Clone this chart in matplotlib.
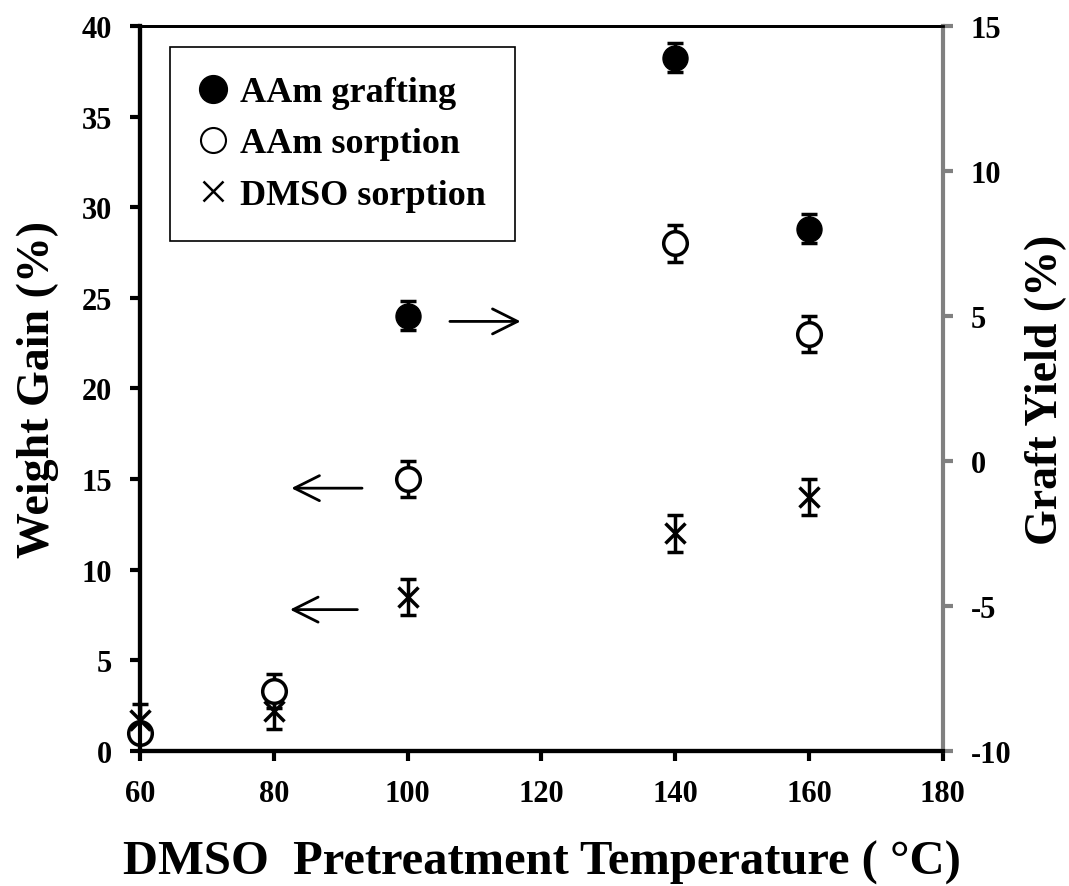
import matplotlib
matplotlib.use("Agg")
import matplotlib.pyplot as plt
from matplotlib.lines import Line2D

# DMSO pretreatment temperature (deg C)
temp_graft = [100, 140, 160]
graft_yield = [5.0, 13.9, 8.0]          # right axis, %
graft_err = [0.5, 0.5, 0.5]

temp_sorp = [60, 80, 100, 140, 160]
aam_sorption = [1.0, 3.3, 15.0, 28.0, 23.0]   # left axis, %
aam_err = [0.4, 0.95, 1.0, 1.0, 1.0]
dmso_sorption = [1.7, 2.2, 8.5, 12.0, 14.0]
dmso_err = [0.9, 1.0, 1.0, 1.0, 1.0]

plt.rcParams["font.family"] = ["Liberation Serif", "DejaVu Serif"]
plt.rcParams["font.weight"] = "bold"
plt.rcParams["axes.unicode_minus"] = False

fig = plt.figure(figsize=(10.69, 8.87), dpi=100)
ax = fig.add_axes([0.131, 0.1522, 0.751, 0.8174])
ax2 = ax.twinx()

eb = ax.errorbar(temp_sorp, aam_sorption, yerr=aam_err, fmt="o", ms=17, mfc="white",
                 mec="black", mew=2.5, ecolor="black", elinewidth=2.5, capsize=6,
                 capthick=2.5, zorder=3)
eb2 = ax.errorbar(temp_sorp, dmso_sorption, yerr=dmso_err, fmt="x", ms=15, mec="black",
                  mew=2.5, ecolor="black", elinewidth=2.5, capsize=6, capthick=2.5,
                  zorder=3)
ax2.errorbar(temp_graft, graft_yield, yerr=graft_err, fmt="o", ms=18, mfc="black",
             mec="black", ecolor="black", elinewidth=2.5, capsize=6, capthick=2.5)
for container in (eb, eb2):
    for artist in container.get_children():
        artist.set_clip_on(False)

ax.set_xlim(60, 180)
ax.set_ylim(0, 40)
ax2.set_ylim(-10, 15)
ax.set_xticks(range(60, 181, 20))
ax.set_yticks(range(0, 41, 5))
ax2.set_yticks(range(-10, 16, 5))

for a in (ax, ax2):
    for s in a.spines.values():
        s.set_linewidth(3)
ax.spines["top"].set_linewidth(2)
ax2.spines["top"].set_linewidth(2)
ax2.spines["right"].set_color("#808080")
ax.spines["right"].set_visible(False)

ax.tick_params(axis="both", direction="out", length=7, width=3, labelsize=22, pad=13)
ax2.tick_params(axis="y", direction="out", length=7, width=3, color="#808080",
                labelsize=22, pad=13)
for lbl in ax.get_xticklabels() + ax.get_yticklabels() + ax2.get_yticklabels():
    lbl.set_fontweight("bold")

ax.set_ylabel("Weight Gain (%)", fontsize=33, fontweight="bold", labelpad=16)
ax2.set_ylabel("Graft Yield (%)", fontsize=33, fontweight="bold", labelpad=10)
ax.set_xlabel("DMSO  Pretreatment Temperature ( \u00b0C)", fontsize=35,
              fontweight="bold", labelpad=23)

arrow = dict(arrowstyle="->", color="black", lw=2, mutation_scale=45)
ax.annotate("", xy=(117.3, 23.7), xytext=(105.9, 23.7), arrowprops=arrow)
ax.annotate("", xy=(82.2, 14.5), xytext=(93.6, 14.5), arrowprops=arrow)
ax.annotate("", xy=(82.0, 7.8), xytext=(92.9, 7.8), arrowprops=arrow)

handles = [
    Line2D([], [], ls="none", marker="o", ms=20, mfc="black", mec="black"),
    Line2D([], [], ls="none", marker="o", ms=18, mfc="white", mec="black", mew=1.5),
    Line2D([], [], ls="none", marker="x", ms=14, mec="black", mew=1.8),
]
leg = ax.legend(handles, ["AAm grafting", "AAm sorption", "DMSO sorption"],
                loc="upper left", bbox_to_anchor=(0.037, 0.971), borderaxespad=0,
                fancybox=False, edgecolor="black", framealpha=1, handlelength=0.8,
                handletextpad=0.35, borderpad=0.8, labelspacing=0.5,
                prop={"size": 26, "weight": "bold"})
leg.get_frame().set_linewidth(1.2)

fig.savefig("out.png", dpi=100)
